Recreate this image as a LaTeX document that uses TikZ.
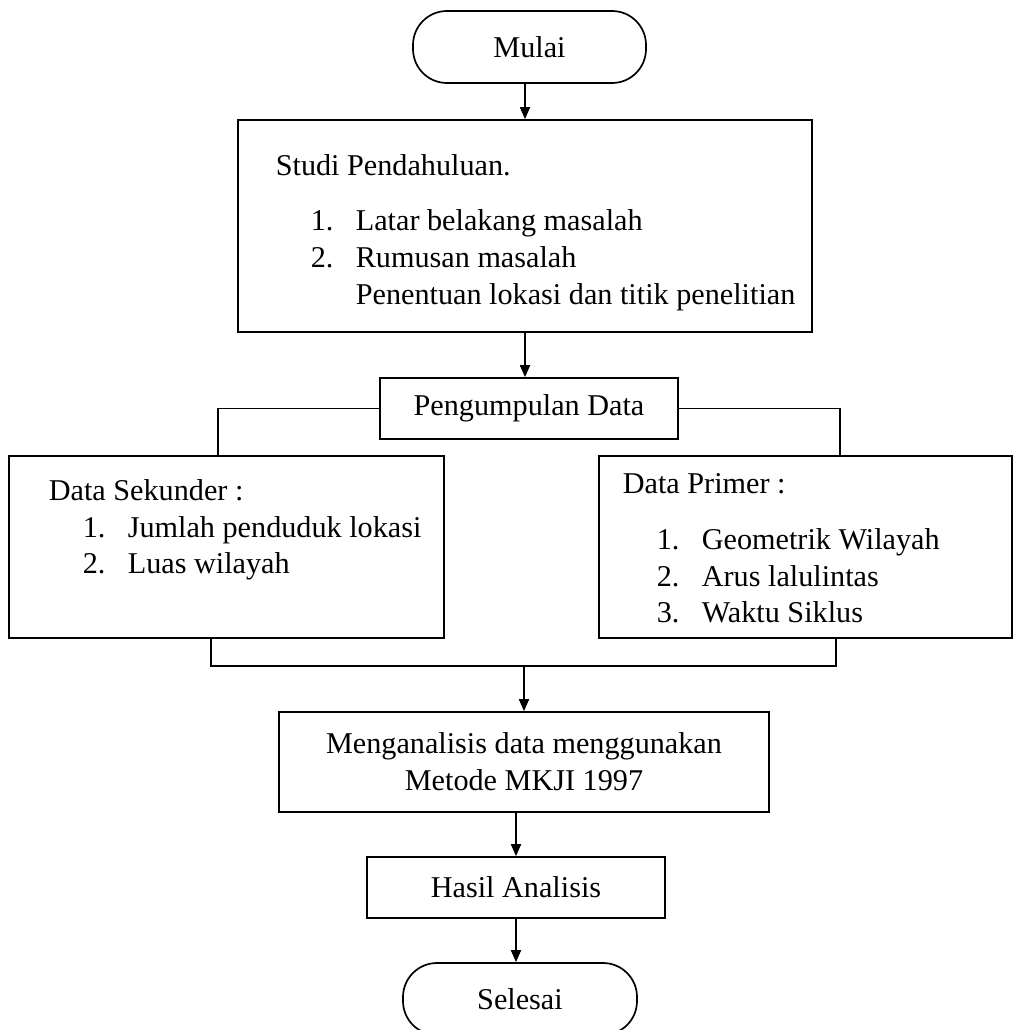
\documentclass[tikz,border=0pt]{standalone}
\usepackage{fontspec}
\setmainfont{Liberation Serif}
\usetikzlibrary{arrows.meta}

\tikzset{
  box/.style={draw, line width=1.7pt, inner sep=0pt},
  term/.style={box, rounded corners=34pt, minimum width=233pt, minimum height=72pt},
  txt/.style={anchor=base west, inner sep=0pt},
}

\begin{document}
\begin{tikzpicture}[x=1pt, y=-1pt, line width=1.7pt, >={Triangle[length=12pt,width=10pt]},
    font=\fontsize{30.2}{37}\selectfont]
	\useasboundingbox (0,0) rectangle (1021,1030);
	% kotak
	\node[term] (mulai) at (529.5,47) {Mulai};
	\node[box, minimum width=574pt, minimum height=212pt] (studi) at (525,226) {};
	\node[box, minimum width=298pt, minimum height=61pt] (peng) at (529,408.5) {Pengumpulan Data};
	\node[box, minimum width=435pt, minimum height=182pt] (sekunder) at (226.5,547) {};
	\node[box, minimum width=413pt, minimum height=182pt] (primer) at (805.5,547) {};
	\node[box, align=center, minimum width=490pt, minimum height=100pt] (anal) at (524,762) {Menganalisis data menggunakan\\Metode MKJI 1997};
	\node[box, minimum width=298pt, minimum height=61pt] (hasil) at (516,887.5) {Hasil Analisis};
	\node[term, minimum width=234pt] (selesai) at (520,999) {Selesai};
	% isi kotak
	\node[txt] (studiJ) at (275,175) {Studi Pendahuluan.};
	\foreach \t [count=\i] in {Latar belakang masalah, Rumusan masalah} {
		\node[txt] (studiN\i) at (310,{193+37*\i}) {\i.};
		\node[txt] (studiT\i) at (355,{193+37*\i}) {\t};
	}
	\node[txt] (studiT3) at (355,304) {Penentuan lokasi dan titik penelitian};
	\node[txt] (sekJ) at (48,500) {Data Sekunder :};
	\foreach \t [count=\i] in {Jumlah penduduk lokasi, Luas wilayah} {
		\node[txt] (sekN\i) at (82,{500.5+36.5*\i}) {\i.};
		\node[txt] (sekT\i) at (127,{500.5+36.5*\i}) {\t};
	}
	\node[txt] (primJ) at (622,493) {Data Primer :};
	\foreach \t [count=\i] in {Geometrik Wilayah, Arus lalulintas, Waktu Siklus} {
		\node[txt] (primN\i) at (656,{513+36.5*\i}) {\i.};
		\node[txt] (primT\i) at (701,{513+36.5*\i}) {\t};
	}
	% garis
	\draw[->] (studi.north |- mulai.south) -- (studi.north);
	\draw[->] (studi.south) -- (studi.south |- peng.north);
	\draw (peng.west) -| ([xshift=-8.5pt]sekunder.north);
	\draw (peng.east) -| ([xshift=34.5pt]primer.north);
	\coordinate (gabung) at (524,666);
	\draw ([xshift=-15.5pt]sekunder.south) |- (gabung) -| ([xshift=30.5pt]primer.south);
	\draw[->] (gabung) -- (gabung |- anal.north);
	\draw[->] (hasil.north |- anal.south) -- (hasil.north);
	\draw[->] (hasil.south) -- (hasil.south |- selesai.north);
\end{tikzpicture}
\end{document}
